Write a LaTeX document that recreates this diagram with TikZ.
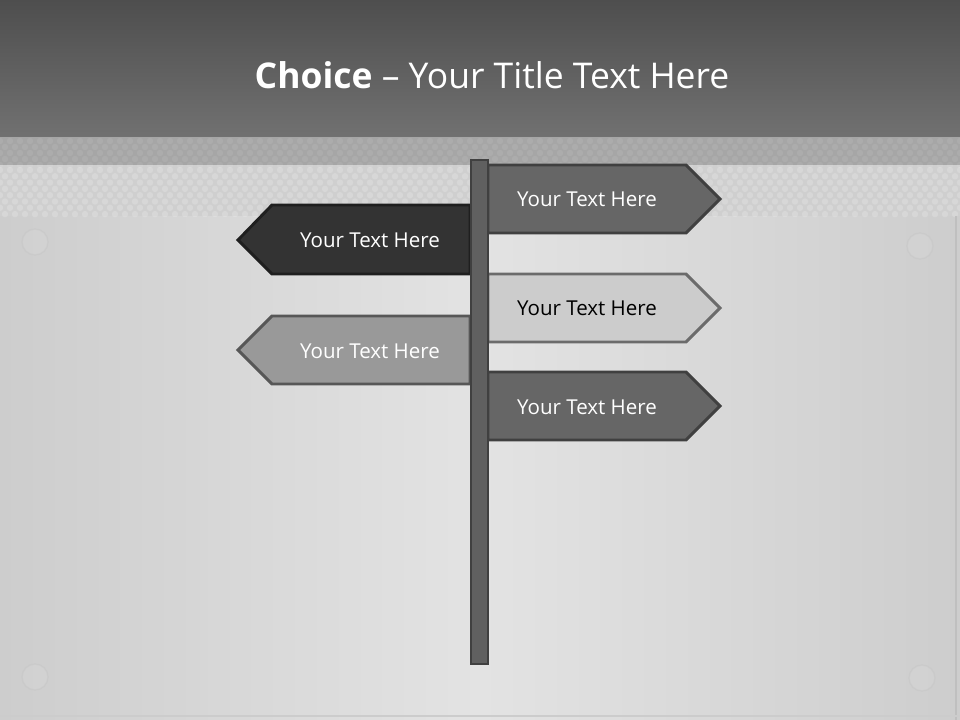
\documentclass[tikz,border=0pt]{standalone}
\usepackage{fontspec}
\setmainfont{Open Sans}
\definecolor{hdtop}{HTML}{4E4E4E}
\definecolor{hdbot}{HTML}{717171}
\definecolor{bandA}{HTML}{A6A6A6}
\definecolor{bandB}{HTML}{CFCFCF}
\definecolor{bgedge}{HTML}{CDCDCD}
\definecolor{bgmid}{HTML}{E3E3E3}
\definecolor{signdark}{HTML}{333333}
\definecolor{signmid}{HTML}{666666}
\definecolor{signlight}{HTML}{CCCCCC}
\definecolor{signgrey}{HTML}{999999}
\definecolor{poleC}{HTML}{606060}
\tikzset{
  signtext/.style={font=\fontsize{15.4}{18}\selectfont, text=white, inner sep=0pt},
  screw/.style={fill=black!17, draw=black!22, line width=1pt, opacity=0.6},
}
\begin{document}
\begin{tikzpicture}[x=0.75pt,y=-0.75pt]
\useasboundingbox (0,0) rectangle (960,720);
% main background
\shade[left color=bgedge, right color=bgedge, middle color=bgmid] (0,137) rectangle (960,720);
% dotted bands
\fill[bandA] (0,137) rectangle (960,165);
\fill[bandB] (0,165) rectangle (960,216);
\foreach \r in {0,...,4} {
  \foreach \c in {0,...,96} {
    \fill[white, opacity=0.07] ({\c*10+mod(\r,2)*5},{141+\r*6}) circle (3.2);
  }
}
\foreach \r in {0,...,7} {
  \foreach \c in {0,...,96} {
    \fill[white, opacity=0.18] ({\c*10+mod(\r,2)*5},{170+\r*6.3}) circle (3.2);
  }
}
% header
\shade[top color=hdtop, bottom color=hdbot] (0,0) rectangle (960,137);
\node[font=\fontsize{26.6}{32}\selectfont, text=white, inner sep=0pt] (title) at (492,75) {\textbf{Choice} – Your Title Text Here};
% edges
\draw[black!25, line width=1.5pt] (956,216) -- (956,720);
\draw[black!20, line width=1.5pt] (0,716) -- (960,716);
% screws
\fill[screw] (35,242) circle (13);
\fill[screw] (920,246) circle (13);
\fill[screw] (35,677) circle (13);
\fill[screw] (922,678) circle (13);
% signs
\draw[fill=signmid, draw=black!75, line width=2.2pt, line join=miter] (488,165) -- (686,165) -- (720,199) -- (686,233) -- (488,233) -- cycle;
\node[signtext] (s1) at (587,199) {Your Text Here};
\draw[fill=signdark, draw=black!88, line width=2.2pt, line join=miter] (470,205) -- (272,205) -- (238,240) -- (272,274) -- (470,274) -- cycle;
\node[signtext] (s2) at (370,240) {Your Text Here};
\draw[fill=signlight, draw=black!58, line width=2.2pt, line join=miter] (488,274) -- (686,274) -- (720,308) -- (686,342) -- (488,342) -- cycle;
\node[signtext, text=black] (s3) at (587,308) {Your Text Here};
\draw[fill=signgrey, draw=black!66, line width=2.2pt, line join=miter] (470,316) -- (272,316) -- (238,350) -- (272,384) -- (470,384) -- cycle;
\node[signtext] (s4) at (370,351) {Your Text Here};
\draw[fill=signmid, draw=black!75, line width=2.2pt, line join=miter] (488,372) -- (686,372) -- (720,406) -- (686,440) -- (488,440) -- cycle;
\node[signtext] (s5) at (587,407) {Your Text Here};
% pole
\draw[fill=poleC, draw=black!75, line width=1.6pt] (471,160) rectangle (488,664);
\node[inner sep=0pt, minimum width=0pt] (pole) at (479.5,412) {};
\end{tikzpicture}
\end{document}
